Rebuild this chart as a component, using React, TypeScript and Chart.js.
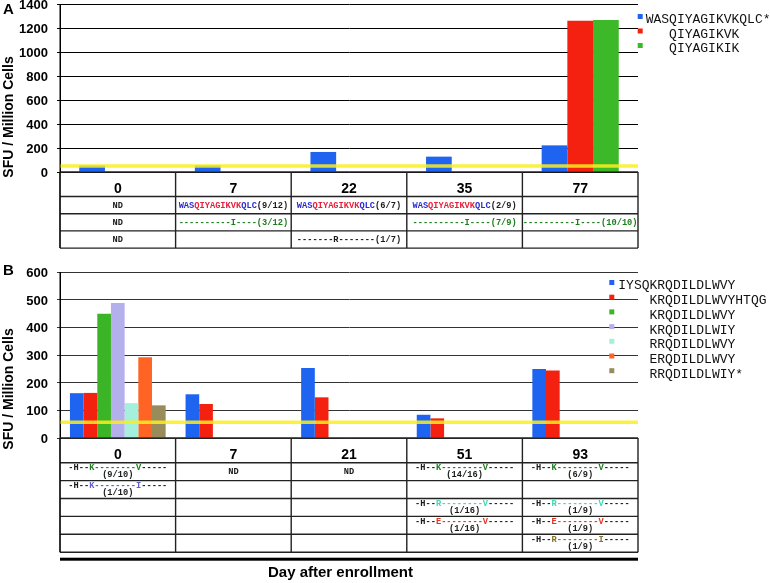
import React, { useEffect, useRef } from 'react';
import { Chart, registerables } from 'chart.js';

Chart.register(...registerables);

// ---------- Panel A data ----------
const daysA = ['0', '7', '22', '35', '77'];
const seriesA = ['WASQIYAGIKVKQLC*', 'QIYAGIKVK', 'QIYAGIKIK'];
const indentA = [0, 3, 3];
const colorsA = ['#1e64f0', '#f42010', '#3cb828'];
const valuesA_WASQ = [55, 55, 167, 128, 222];
const valuesA_VK = [null, null, null, null, 1261];
const valuesA_IK = [null, null, null, null, 1267];
const thresholdA = 50;
const yMaxA = 1400;
const yStepA = 200;
const tableA_row1 = ['{k}ND', '{b}WAS{r}QIYAGIKVK{b}QLC{k}(9/12)', '{b}WAS{r}QIYAGIKVK{b}QLC{k}(6/7)', '{b}WAS{r}QIYAGIKVK{b}QLC{k}(2/9)', ''];
const tableA_row2 = ['{k}ND', '{g}----------I----(3/12)', '', '{g}----------I----(7/9)', '{g}----------I----(10/10)'];
const tableA_row3 = ['{k}ND', '', '{k}-------R-------(1/7)', '', ''];

// ---------- Panel B data ----------
const daysB = ['0', '7', '21', '51', '93'];
const seriesB = ['IYSQKRQDILDLWVY', 'KRQDILDLWVYHTQG', 'KRQDILDLWVY', 'KRQDILDLWIY', 'RRQDILDLWVY', 'ERQDILDLWVY', 'RRQDILDLWIY*'];
const indentB = [0, 4, 4, 4, 4, 4, 4];
const colorsB = ['#1e64f0', '#f42010', '#3cb428', '#b4b0ec', '#a4f0dc', '#ff6424', '#988c5c'];
const valuesB_IYSQ = [162, 158, 253, 84, 249];
const valuesB_HTQG = [163, 123, 147, 71, 244];
const valuesB_KVY = [449, null, null, null, null];
const valuesB_KIY = [488, null, null, null, null];
const valuesB_RVY = [126, null, null, null, null];
const valuesB_EVY = [292, null, null, null, null];
const valuesB_RIY = [118, null, null, null, null];
const thresholdB = 57;
const yMaxB = 600;
const yStepB = 100;
const tableB_row1 = ['{k}-H--{g}K--------V{k}-----\n{k}(9/10)', '{k}ND', '{k}ND', '{k}-H--{g}K--------V{k}-----\n{k}(14/16)', '{k}-H--{g}K--------V{k}-----\n{k}(6/9)'];
const tableB_row2 = ['{k}-H--{p}K--------I{k}-----\n{k}(1/10)', '', '', '', ''];
const tableB_row3 = ['', '', '', '{k}-H--{c}R--------V{k}-----\n{k}(1/16)', '{k}-H--{c}R--------V{k}-----\n{k}(1/9)'];
const tableB_row4 = ['', '', '', '{k}-H--{e}E--------V{k}-----\n{k}(1/16)', '{k}-H--{e}E--------V{k}-----\n{k}(1/9)'];
const tableB_row5 = ['', '', '', '', '{k}-H--{o}R--------I{k}-----\n{k}(1/9)'];

const yTitle = 'SFU / Million Cells';
const xTitle = 'Day after enrollment';

// ---------- drawing helpers ----------
const MONO = "'Liberation Mono','Courier New',monospace";
const SANS = "'Liberation Sans',Arial,Helvetica,sans-serif";
const TEXT_COLORS: Record<string, string> = {
  k: '#1a1a1a', b: '#2b2bd6', r: '#e8203a', g: '#1c7d1c', p: '#5c5cd6', c: '#3cd8b4', e: '#e83020', o: '#85702a',
};

function parseLine(s: string): [string, string][] {
  const out: [string, string][] = [];
  const re = /\{(\w)\}([^{]*)/g;
  let m: RegExpExecArray | null;
  while ((m = re.exec(s))) out.push([m[2], TEXT_COLORS[m[1]]]);
  return out;
}

function drawSegs(ctx: CanvasRenderingContext2D, line: string, cx: number, cy: number) {
  const segs = parseLine(line);
  const total = segs.reduce((acc, [t]) => acc + ctx.measureText(t).width, 0);
  let x = cx - total / 2;
  ctx.textAlign = 'left';
  for (const [t, c] of segs) {
    ctx.fillStyle = c;
    ctx.fillText(t, x, cy);
    x += ctx.measureText(t).width;
  }
}

interface Decor {
  id: string;
  letter: string;
  letterDy: number;
  threshold: number;
  rows: string[][];
  headerH: number;
  rowH: number;
  cellFont: string;
  twoLineOffsets: [number, number];
  names: string[];
  indents: number[];
  colors: string[];
  legendMarkerDx: number;
  legendTextDx: number;
  legendTop: number;
  legendStep: number;
  yTitleFromBottom: number;
  xTitle?: string;
}

function makeDecor(d: Decor) {
  return {
    id: 'decor' + d.id,
    afterDatasetsDraw(chart: any) {
      const { ctx, chartArea: a, scales } = chart;
      const py = scales.y.getPixelForValue(d.threshold);
      ctx.save();
      ctx.strokeStyle = 'rgba(250,238,30,0.85)';
      ctx.lineWidth = 3.5;
      ctx.beginPath();
      ctx.moveTo(a.left, py);
      ctx.lineTo(a.right, py);
      ctx.stroke();
      ctx.restore();
    },
    afterDraw(chart: any) {
      const { ctx, chartArea: a, scales } = chart;
      const x = scales.x;
      const labels: string[] = chart.data.labels;
      const n = labels.length;
      const colW = (a.right - a.left) / n;
      const top = a.bottom;
      const headBottom = top + d.headerH;
      const bottom = headBottom + d.rows.length * d.rowH;
      ctx.save();
      ctx.strokeStyle = '#222';
      ctx.lineWidth = 1.4;
      ctx.beginPath();
      const hs = [top, headBottom];
      for (let r = 1; r <= d.rows.length; r++) hs.push(headBottom + r * d.rowH);
      for (const h of hs) { ctx.moveTo(a.left, h); ctx.lineTo(a.right, h); }
      for (let i = 0; i <= n; i++) { const vx = a.left + i * colW; ctx.moveTo(vx, top); ctx.lineTo(vx, bottom); }
      ctx.stroke();
      ctx.lineWidth = 1;
      ctx.strokeStyle = '#000';
      ctx.beginPath();
      ctx.moveTo(a.left, a.top);
      ctx.lineTo(a.left, bottom);
      ctx.stroke();
      ctx.fillStyle = '#000';
      ctx.font = `bold 14px ${SANS}`;
      ctx.textAlign = 'center';
      ctx.textBaseline = 'alphabetic';
      labels.forEach((lab, i) => ctx.fillText(lab, x.getPixelForValue(i), top + 21));
      ctx.font = d.cellFont;
      ctx.textBaseline = 'middle';
      d.rows.forEach((row, r) => {
        const rt = headBottom + r * d.rowH;
        row.forEach((cell, c) => {
          if (!cell) return;
          const cx = x.getPixelForValue(c);
          const lines = cell.split('\n');
          if (lines.length === 1) drawSegs(ctx, lines[0], cx, rt + d.rowH / 2 + 0.5);
          else lines.forEach((ln, k) => drawSegs(ctx, ln, cx, rt + d.twoLineOffsets[k]));
        });
      });
      ctx.font = `13px ${MONO}`;
      ctx.textBaseline = 'middle';
      ctx.textAlign = 'left';
      const cw = ctx.measureText('M').width;
      d.names.forEach((name, i) => {
        const cy = a.top + d.legendTop + i * d.legendStep;
        ctx.fillStyle = d.colors[i];
        ctx.fillRect(a.right + d.legendMarkerDx, cy - 6, 5, 5);
        ctx.fillStyle = '#111';
        ctx.fillText(name, a.right + d.legendTextDx + d.indents[i] * cw, cy);
      });
      ctx.fillStyle = '#000';
      ctx.font = `bold 15px ${SANS}`;
      ctx.textAlign = 'left';
      ctx.textBaseline = 'middle';
      ctx.fillText(d.letter, 3, a.top + d.letterDy);
      ctx.save();
      ctx.translate(9.5, a.bottom - d.yTitleFromBottom);
      ctx.rotate(-Math.PI / 2);
      ctx.font = `bold 14px ${SANS}`;
      ctx.textAlign = 'center';
      ctx.textBaseline = 'middle';
      ctx.fillText(yTitle, 0, 0);
      ctx.restore();
      if (d.xTitle) {
        ctx.fillStyle = '#000';
        ctx.fillRect(a.left, bottom + 5.5, a.right - a.left, 3);
        ctx.font = `bold 15px ${SANS}`;
        ctx.textAlign = 'center';
        ctx.textBaseline = 'middle';
        ctx.fillText(d.xTitle, 340.5, bottom + 21);
      }
      ctx.restore();
    },
  };
}

function baseOptions(max: number, step: number, gridColor: string, padBottom: number) {
  return {
    responsive: false,
    animation: false as const,
    devicePixelRatio: 1,
    events: [],
    layout: { padding: { top: 10, right: 132, bottom: padBottom, left: 0 } },
    plugins: { legend: { display: false }, tooltip: { enabled: false }, title: { display: false } },
    scales: {
      x: { type: 'category' as const, display: false, offset: true },
      y: {
        min: 0,
        max,
        afterFit: (s: any) => { s.width = 60; s.paddingTop = 0; s.paddingBottom = 0; },
        border: { display: true, color: '#000', width: 1 },
        grid: { color: gridColor, lineWidth: 1, tickLength: 3, drawTicks: true },
        ticks: {
          stepSize: step,
          padding: 9,
          labelOffset: 1.5,
          color: '#000',
          font: { family: SANS, size: 13, weight: 'bold' as const },
          callback: (v: any) => String(v),
        },
      },
    },
  };
}

// place the chart so that its plot area spans pageTop..pageBottom on the page
function placeChart(chart: any, canvas: HTMLCanvasElement, pageTop: number, pageBottom: number) {
  let a = chart.chartArea;
  const want = pageBottom - pageTop;
  const have = a.bottom - a.top;
  if (Math.abs(want - have) > 0.25) {
    chart.options.layout.padding.bottom -= want - have;
    chart.update();
    a = chart.chartArea;
  }
  canvas.style.top = `${pageTop - a.top}px`;
}

export default function App() {
  const refA = useRef<HTMLCanvasElement>(null);
  const refB = useRef<HTMLCanvasElement>(null);

  useEffect(() => {
    document.body.style.margin = '0';
    const chartA = new Chart(refA.current!, {
      type: 'bar',
      data: {
        labels: daysA,
        datasets: [valuesA_WASQ, valuesA_VK, valuesA_IK].map((v, i) => ({
          label: seriesA[i],
          data: v,
          backgroundColor: colorsA[i],
          borderWidth: 0,
          categoryPercentage: 0.667,
          barPercentage: 1,
        })),
      },
      options: baseOptions(yMaxA, yStepA, '#000', 90) as any,
      plugins: [makeDecor({
        id: 'A', letter: 'A', letterDy: 6, threshold: thresholdA,
        rows: [tableA_row1, tableA_row2, tableA_row3], headerH: 24.5, rowH: 17.2,
        cellFont: `bold 8.7px ${MONO}`, twoLineOffsets: [5.3, 12.6],
        names: seriesA, indents: indentA, colors: colorsA,
        legendMarkerDx: -0.3, legendTextDx: 7.7, legendTop: 16, legendStep: 14.5,
        yTitleFromBottom: 55,
      })],
    });
    placeChart(chartA, refA.current!, 4, 172);
    const chartB = new Chart(refB.current!, {
      type: 'bar',
      data: {
        labels: daysB,
        datasets: [valuesB_IYSQ, valuesB_HTQG, valuesB_KVY, valuesB_KIY, valuesB_RVY, valuesB_EVY, valuesB_RIY].map((v, i) => ({
          label: seriesB[i],
          data: v,
          backgroundColor: colorsB[i],
          borderWidth: 0,
          categoryPercentage: 0.828,
          barPercentage: 1,
        })),
      },
      options: baseOptions(yMaxB, yStepB, '#333', 154) as any,
      plugins: [makeDecor({
        id: 'B', letter: 'B', letterDy: -1.5, threshold: thresholdB,
        rows: [tableB_row1, tableB_row2, tableB_row3, tableB_row4, tableB_row5], headerH: 24.7, rowH: 17.9,
        cellFont: `bold 8.7px ${MONO}`, twoLineOffsets: [5.3, 12.6],
        names: seriesB, indents: indentB, colors: colorsB,
        legendMarkerDx: -28.7, legendTextDx: -19.7, legendTop: 14, legendStep: 14.7,
        yTitleFromBottom: 49, xTitle,
      })],
    });
    placeChart(chartB, refB.current!, 272, 438);
    return () => { chartA.destroy(); chartB.destroy(); };
  }, []);

  return (
    <div style={{ position: 'absolute', left: 0, top: 0, width: 770, height: 583, overflow: 'hidden', background: '#fff' }}>
      <canvas ref={refA} width={770} height={268} style={{ position: 'absolute', left: 0, top: -6, width: 770, height: 268 }} />
      <canvas ref={refB} width={770} height={330} style={{ position: 'absolute', left: 0, top: 262, width: 770, height: 330 }} />
    </div>
  );
}
